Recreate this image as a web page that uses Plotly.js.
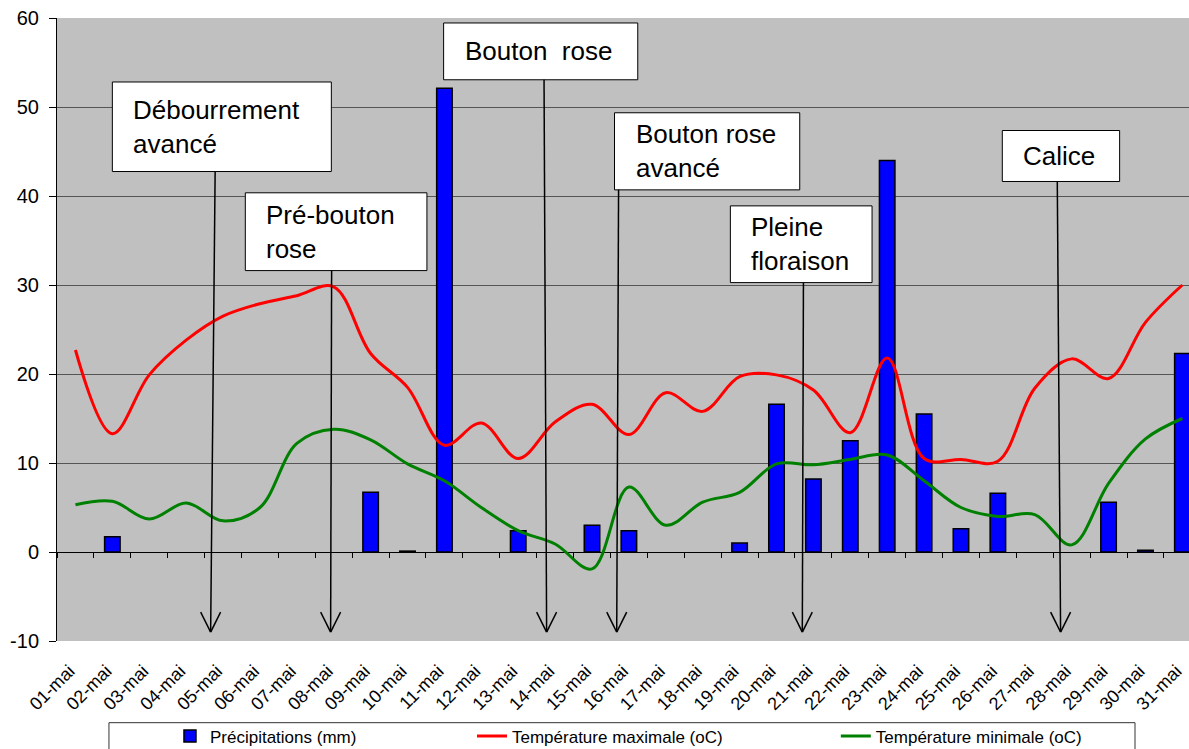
<!DOCTYPE html>
<html><head><meta charset="utf-8">
<script src="https://cdn.plot.ly/plotly-3.0.1.min.js"></script>
<style>html,body{margin:0;padding:0;overflow:hidden;background:#fff}</style>
</head><body><div id="chart" style="width:1189px;height:749px"></div>
<script>
const dates = ['01-mai','02-mai','03-mai','04-mai','05-mai','06-mai','07-mai','08-mai','09-mai','10-mai',
  '11-mai','12-mai','13-mai','14-mai','15-mai','16-mai','17-mai','18-mai','19-mai','20-mai',
  '21-mai','22-mai','23-mai','24-mai','25-mai','26-mai','27-mai','28-mai','29-mai','30-mai','31-mai'];
const precipitation = [0,1.7,0,0,0,0,0,0,6.7,0.1,52.1,0,2.4,0,3.0,2.4,0,0,1.0,16.6,8.2,12.5,44.0,15.5,2.6,6.6,0,0,5.6,0.2,22.3];
const tempMax = [22.7,13.3,19.9,23.8,26.5,27.9,28.8,29.8,22.3,18.5,12.0,14.5,10.5,14.6,16.6,13.2,17.9,15.8,19.7,19.9,18.2,13.4,21.8,10.5,10.4,10.2,18.4,21.7,19.5,25.8,30.0];
const tempMin = [5.3,5.7,3.7,5.5,3.5,5.0,12.2,13.8,12.6,9.9,8.0,5.0,2.4,0.9,-1.9,7.3,3.0,5.6,6.7,9.9,9.8,10.4,10.9,8.0,5.0,4.0,4.2,0.8,7.7,12.7,15.0];
const seriesNames = ['Précipitations (mm)','Température maximale (oC)','Température minimale (oC)'];
const yTicks = [-10,0,10,20,30,40,50,60];
const yTickLabels = ['-10','0','10','20','30','40','50','60'];

// phenological stages (text) and their callout placement (category index / axis value)
const stageLabels = ['Débourrement<br>avancé','Pré-bouton<br>rose','Bouton  rose','Bouton rose<br>avancé','Pleine<br>floraison','Calice'];
const stageBoxes = [
  {x0:1.00, x1:6.935, y0:42.75, y1:52.81, ax:3.786, tx:3.664},
  {x0:4.604, x1:9.526, y0:31.62, y1:40.36, ax:6.943, tx:6.916},
  {x0:9.978, x1:15.24, y0:53.06, y1:59.44, ax:12.70, tx:12.77},
  {x0:14.61, x1:19.63, y0:40.69, y1:49.35, ax:14.72, tx:14.67},
  {x0:17.75, x1:21.59, y0:30.27, y1:38.89, ax:19.73, tx:19.70},
  {x0:25.12, x1:28.30, y0:41.63, y1:47.36, ax:26.61, tx:26.70}
];
const arrowTipY = -9.0;

const FONT = 'Liberation Sans, Arial, sans-serif';

const traces = [
  {type:'bar', x:dates, y:precipitation.map(v => v === 0 ? null : v), name:seriesNames[0], width:0.42,
   marker:{color:'#0000FF', line:{color:'#000000', width:1.5}}, legend:'legend', hoverinfo:'x+y'},
  {type:'scatter', mode:'lines', x:dates, y:tempMax, name:seriesNames[1],
   line:{color:'#FF0000', width:3, shape:'spline', smoothing:1}, legend:'legend2'},
  {type:'scatter', mode:'lines', x:dates, y:tempMin, name:seriesNames[2],
   line:{color:'#008000', width:3, shape:'spline', smoothing:1}, legend:'legend3'},
  {type:'scatter', mode:'lines', x:dates, y:dates.map(()=>null), xaxis:'x2', showlegend:false, hoverinfo:'skip'}
];

const shapes = [];
const annotations = [];
stageBoxes.forEach((b, i) => {
  shapes.push({type:'rect', xref:'x', yref:'y', x0:b.x0, x1:b.x1, y0:b.y0, y1:b.y1,
    fillcolor:'#FFFFFF', line:{color:'#000000', width:1}, layer:'above'});
  shapes.push({type:'line', xref:'x', yref:'y', x0:b.ax, x1:b.tx, y0:b.y0, y1:arrowTipY,
    line:{color:'#000000', width:1.5}});
  shapes.push({type:'line', xref:'x', yref:'y', x0:b.tx, x1:b.tx-0.27, y0:arrowTipY, y1:arrowTipY+2.25,
    line:{color:'#000000', width:1.5}});
  shapes.push({type:'line', xref:'x', yref:'y', x0:b.tx, x1:b.tx+0.27, y0:arrowTipY, y1:arrowTipY+2.25,
    line:{color:'#000000', width:1.5}});
  annotations.push({xref:'x', yref:'y', x:b.x0, y:(b.y0+b.y1)/2, xanchor:'left', yanchor:'middle',
    xshift:19, align:'left', showarrow:false, text:stageLabels[i],
    font:{family:FONT, size:26, color:'#000000'}});
});
// legend frame
shapes.push({type:'rect', xref:'paper', yref:'paper', x0:0.0459, x1:0.9523, y0:-0.25, y1:-0.1311,
  fillcolor:'rgba(0,0,0,0)', line:{color:'#333333', width:1}});

const legendBase = {orientation:'h', yanchor:'top', y:-0.1245, xanchor:'left', bgcolor:'rgba(0,0,0,0)',
  borderwidth:0, font:{family:FONT, size:17, color:'#000000'}};

const layout = {
  width:1189, height:749,
  margin:{l:57, r:0, t:18, b:108, pad:0, autoexpand:false},
  paper_bgcolor:'#FFFFFF', plot_bgcolor:'#C0C0C0',
  font:{family:FONT, color:'#000000'},
  showlegend:true,
  legend:Object.assign({}, legendBase, {x:0.0998}),
  legend2:Object.assign({}, legendBase, {x:0.3666}),
  legend3:Object.assign({}, legendBase, {x:0.688}),
  xaxis:{type:'category', categoryorder:'array', categoryarray:dates, range:[-0.5, 30.18],
    showgrid:false, zeroline:false, showline:false, ticks:'', tickangle:-45,
    ticklabelstandoff:15, ticklabelshift:-6,
    tickfont:{family:FONT, size:18, color:'#000000'}, automargin:false},
  xaxis2:{type:'category', categoryorder:'array', categoryarray:dates, range:[-0.5, 30.18],
    overlaying:'x', anchor:'free', position:1/7, side:'bottom', showgrid:false, zeroline:false,
    showline:false, ticks:'outside', ticklen:5, tickwidth:1, tickcolor:'#000000', tickson:'boundaries',
    showticklabels:false},
  yaxis:{range:[-10,60], tickmode:'array', tickvals:yTicks, ticktext:yTickLabels,
    showgrid:true, gridcolor:'#555555', gridwidth:1,
    zeroline:true, zerolinecolor:'#000000', zerolinewidth:1,
    showline:true, linecolor:'#000000', linewidth:1, ticks:'outside', ticklen:7, tickcolor:'#000000',
    ticklabelstandoff:6,
    tickfont:{family:FONT, size:20, color:'#000000'}, automargin:false},
  shapes:shapes,
  annotations:annotations
};

Plotly.newPlot('chart', traces, layout, {displayModeBar:false, responsive:false});
</script></body></html>
